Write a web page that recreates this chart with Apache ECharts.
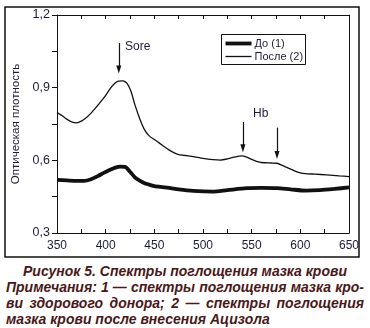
<!DOCTYPE html>
<html>
<head>
<meta charset="utf-8">
<script src="https://cdn.jsdelivr.net/npm/echarts@6/dist/echarts.min.js"></script>
<style>
  html, body { margin: 0; padding: 0; background: #fff; }
  #wrap { position: relative; width: 370px; height: 328px; }
  #chart { position: absolute; left: 0; top: 0; width: 370px; height: 260px; }
  #caption {
    position: absolute; left: 6px; top: 263px; width: 358px;
    font-family: "Liberation Sans", Arial, sans-serif;
    font-weight: bold; font-style: italic; font-size: 14px;
    line-height: 16px; color: #4a1818;
  }
  #caption div { white-space: nowrap; }
  #caption .c { text-align: center; }
  #caption .j { text-align: justify; text-align-last: justify; white-space: normal; }
</style>
</head>
<body>
<div id="wrap">
  <div id="chart"></div>
  <div id="caption">
    <div class="c">Рисунок 5. Спектры поглощения мазка крови</div>
    <div class="j">Примечания: 1 — спектры поглощения мазка кро-</div>
    <div class="j">ви здорового донора; 2 — спектры поглощения</div>
    <div>мазка крови после внесения Ацизола</div>
  </div>
</div>
<script>
// Wavelengths (nm) and optical density for the smear before treatment (1)
const beforeWavelength = [350, 360, 370, 378, 385, 392, 398, 404, 410, 415, 420, 425, 430, 435, 440, 447, 454, 465, 475, 490, 510, 525, 545, 560, 576, 590, 606, 620, 635, 650];
const beforeDensity    = [0.519, 0.517, 0.515, 0.515, 0.522, 0.535, 0.548, 0.560, 0.570, 0.574, 0.573, 0.553, 0.530, 0.516, 0.505, 0.497, 0.491, 0.486, 0.480, 0.474, 0.471, 0.477, 0.485, 0.486, 0.485, 0.480, 0.475, 0.477, 0.482, 0.488];

// Wavelengths (nm) and optical density after Acizol was added (2)
const afterWavelength = [350, 355, 360, 365, 370, 375, 380, 385, 390, 395, 400, 405, 410, 413, 418, 422, 426, 430, 435, 440, 445, 450, 455, 460, 465, 470, 475, 480, 490, 500, 510, 518, 525, 532, 540, 545, 550, 555, 560, 570, 576, 582, 590, 598, 605, 615, 627, 640, 650];
const afterDensity    = [0.797, 0.785, 0.770, 0.759, 0.755, 0.762, 0.776, 0.795, 0.818, 0.842, 0.868, 0.898, 0.920, 0.927, 0.928, 0.918, 0.885, 0.830, 0.772, 0.726, 0.700, 0.686, 0.672, 0.657, 0.643, 0.632, 0.624, 0.621, 0.615, 0.608, 0.603, 0.601, 0.606, 0.613, 0.618, 0.613, 0.604, 0.596, 0.591, 0.589, 0.588, 0.578, 0.564, 0.550, 0.545, 0.543, 0.540, 0.536, 0.533];

const seriesNames = ['До (1)', 'После (2)'];
const seriesWidths = [3.8, 1.3];

// Peak markers: arrow start/end in data coordinates
const soretArrow = [[413.5, 1.084], [413.5, 0.975]];
const hbArrows = [
  [[541, 0.758], [541, 0.650]],
  [[576, 0.735], [576, 0.622]]
];

const xMin = 350, xMax = 650, xStep = 25;
const yMin = 0.3, yMax = 1.2, yStep = 0.15;

const pairs = (xs, ys) => xs.map((x, i) => [x, ys[i]]);
const font = '"Liberation Sans", Arial, sans-serif';
const ink = '#111';
const textInk = '#1c1c3a';

const arrowLine = (seg) => [
  { coord: seg[0], symbol: 'none' },
  { coord: seg[1], symbol: 'triangle', symbolSize: [5, 8], symbolRotate: 180 }
];

// Boxed legend: one line sample and caption per series
const legendBox = { x: 221, y: 34, w: 84, h: 30 };
const legendGraphic = {
  type: 'group', left: legendBox.x, top: legendBox.y,
  children: [
    { type: 'rect', shape: { x: 0, y: 0, width: legendBox.w, height: legendBox.h },
      style: { fill: '#fff', stroke: ink, lineWidth: 1 } }
  ].concat(seriesNames.flatMap((name, i) => [
    { type: 'line', shape: { x1: 4, y1: 9 + i * 13, x2: 30, y2: 9 + i * 13 },
      style: { stroke: ink, lineWidth: seriesWidths[i] } },
    { type: 'text', x: 33, y: 9 + i * 13,
      style: { text: name, font: '11px ' + font, fill: textInk, verticalAlign: 'middle' } }
  ]))
};

const chart = echarts.init(document.getElementById('chart'), null, { renderer: 'canvas' });

chart.setOption({
  animation: false,
  backgroundColor: '#fff',
  grid: { left: 57, top: 15, width: 292, height: 218 },
  xAxis: [
    {
      type: 'value', min: xMin, max: xMax, interval: xStep,
      axisLine: { lineStyle: { color: ink, width: 1 } },
      axisTick: { inside: true, length: 4, lineStyle: { color: ink } },
      splitLine: { show: false },
      axisLabel: {
        fontFamily: font, fontSize: 12, color: textInk, margin: 7,
        formatter: v => (Math.round(v) % 50 === 0 ? String(v) : '')
      }
    },
    {
      type: 'value', position: 'top', min: xMin, max: xMax, interval: xStep,
      axisLine: { lineStyle: { color: ink, width: 1 } },
      axisTick: { inside: true, length: 4, lineStyle: { color: ink } },
      axisLabel: { show: false },
      splitLine: { show: false }
    }
  ],
  yAxis: [
    {
      type: 'value', min: yMin, max: yMax, interval: yStep,
      name: 'Оптическая плотность',
      nameLocation: 'middle', nameGap: 31,
      nameTextStyle: { fontFamily: font, fontSize: 11.5, color: textInk },
      axisLine: { lineStyle: { color: ink, width: 1 } },
      axisTick: { inside: false, length: 5, lineStyle: { color: ink } },
      splitLine: { show: false },
      axisLabel: {
        fontFamily: font, fontSize: 12.5, color: textInk, margin: 7,
        formatter: v => (Math.round(v * 100) % 30 === 0 ? v.toFixed(1).replace('.', ',') : '')
      }
    },
    {
      type: 'value', position: 'right', min: yMin, max: yMax, interval: yStep,
      axisLine: { show: true, lineStyle: { color: ink, width: 1 } },
      axisTick: { show: false },
      axisLabel: { show: false },
      splitLine: { show: false }
    }
  ],
  series: [
    {
      name: seriesNames[0], type: 'line',
      data: pairs(beforeWavelength, beforeDensity),
      symbol: 'none', smooth: 0.25,
      lineStyle: { color: ink, width: seriesWidths[0] }
    },
    {
      name: seriesNames[1], type: 'line',
      data: pairs(afterWavelength, afterDensity),
      symbol: 'none', smooth: 0.2,
      lineStyle: { color: ink, width: seriesWidths[1] },
      markLine: {
        silent: true, animation: false,
        label: { show: false },
        lineStyle: { color: ink, width: 1.2, type: 'solid' },
        data: [arrowLine(soretArrow), arrowLine(hbArrows[0]), arrowLine(hbArrows[1])]
      }
    }
  ],
  graphic: [
    {
      type: 'rect', z: 0, silent: true,
      shape: { x: 5, y: 7, width: 354, height: 250 },
      style: { fill: 'none', stroke: ink, lineWidth: 1.5 }
    },
    legendGraphic,
    {
      type: 'text', left: 125, top: 41,
      style: { text: 'Sore', font: '12px ' + font, fill: textInk }
    },
    {
      type: 'text', left: 253, top: 108,
      style: { text: 'Hb', font: '12px ' + font, fill: textInk }
    }
  ]
});
</script>
</body>
</html>
